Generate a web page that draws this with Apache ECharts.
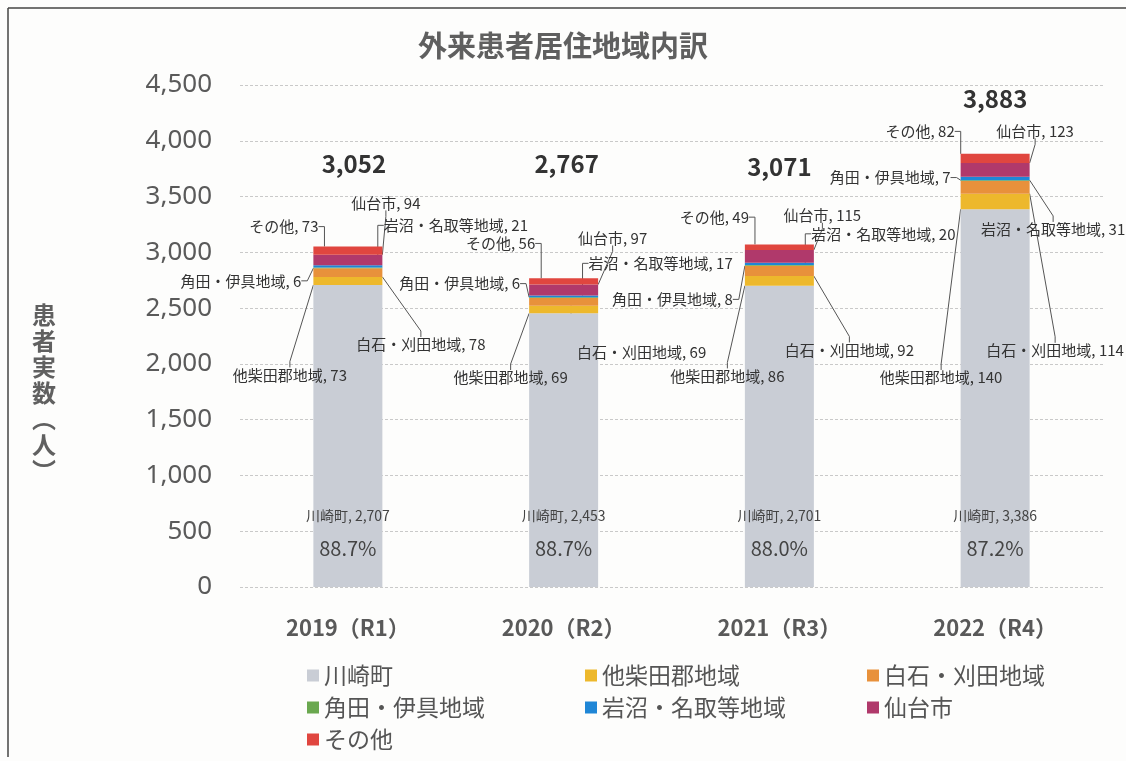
<!DOCTYPE html>
<html>
<head>
<meta charset="utf-8">
<script src="https://cdn.jsdelivr.net/npm/echarts@6/dist/echarts.min.js"></script>
<style>
html,body{margin:0;padding:0;background:#fdfdfc;}
#chart{width:1126px;height:761px;}
</style>
</head>
<body>
<div id="chart"></div>
<script>
// ---- data ----
const categories = ['2019（R1）', '2020（R2）', '2021（R3）', '2022（R4）'];
const seriesNames = ['川崎町', '他柴田郡地域', '白石・刈田地域', '角田・伊具地域', '岩沼・名取等地域', '仙台市', 'その他'];
const kawasaki  = [2707, 2453, 2701, 3386];
const shibata   = [73, 69, 86, 140];
const shiroishi = [78, 69, 92, 114];
const kakuda    = [6, 6, 8, 7];
const iwanuma   = [21, 17, 20, 31];
const sendai    = [94, 97, 115, 123];
const others    = [73, 56, 49, 82];
const totals    = [3052, 2767, 3071, 3883];
const yMin = 0, yMax = 4500, yStep = 500;

// ---- layout (label displacement from segment centre, px) ----
const labelShift = {
  shibata:   [[-58, 94], [-53, 68], [-52, 95], [-54, 176]],
  shiroishi: [[73, 72], [78, 50], [70, 79], [60, 163]],
  kakuda:    [[-107, 13], [-104, -14], [-107, 34], [-105, -3]],
  iwanuma:   [[108, -41], [97, -33], [104, -30], [58, 51]],
  sendai:    [[38, -57], [49, -52], [43, -41], [40, -39]],
  others:    [[-64, -24], [-63, -38], [-65, -30], [-75, -27]]
};
const totalShift = [[6, -66], [3, -97], [0, -61], [0, -38]];

const colors = ['#c9cdd5', '#edb82c', '#e8913b', '#6aa84f', '#1f86d6', '#b0396b', '#e0463f'];
const FONT = '"Noto Sans CJK JP", "Noto Sans", sans-serif';
const fmt = v => v.toLocaleString('en-US');

function smallSeries(idx, data, shiftKey) {
  return {
    name: seriesNames[idx],
    type: 'bar',
    stack: 'total',
    barWidth: 69,
    data: data,
    itemStyle: { color: colors[idx] },
    label: {
      show: true,
      position: 'inside',
      color: '#333',
      fontFamily: FONT,
      fontSize: 15,
      textBorderWidth: 0,
      formatter: p => seriesNames[idx] + ', ' + fmt(p.value)
    },
    labelLayout: p => ({ dx: labelShift[shiftKey][p.dataIndex][0], dy: labelShift[shiftKey][p.dataIndex][1] }),
    labelLine: { show: true, length2: 6, lineStyle: { color: '#555', width: 1 } },
    emphasis: { disabled: true }
  };
}

const chart = echarts.init(document.getElementById('chart'), null, { renderer: 'canvas' });
const legendText = { fontFamily: FONT, fontSize: 23, color: '#555' };
const legendBase = { orient: 'vertical', top: 659, itemWidth: 12, itemHeight: 12, itemGap: 9, icon: 'rect', textStyle: legendText, selectedMode: false };

chart.setOption({
  backgroundColor: '#fdfdfc',
  animation: false,
  title: {
    text: '外来患者居住地域内訳',
    left: 'center',
    top: 26,
    textStyle: { fontFamily: FONT, fontSize: 29, fontWeight: 'bold', color: '#5f5f5f' }
  },
  graphic: [
    { type: 'text', left: 32, top: 302, style: { text: '患\n者\n実\n数\n︵\n人\n︶', fontFamily: FONT, fontSize: 24, lineHeight: 26, fontWeight: 'bold', fill: '#606060' } },
    { type: 'line', shape: { x1: 8, y1: 8, x2: 1126, y2: 8 }, style: { stroke: '#444', lineWidth: 1.5 } },
    { type: 'line', shape: { x1: 8, y1: 8, x2: 8, y2: 757 }, style: { stroke: '#444', lineWidth: 1.5 } }
  ],
  legend: [
    Object.assign({}, legendBase, { left: 302, data: ['川崎町', '角田・伊具地域', 'その他'] }),
    Object.assign({}, legendBase, { left: 580, data: ['他柴田郡地域', '岩沼・名取等地域'] }),
    Object.assign({}, legendBase, { left: 862, data: ['白石・刈田地域', '仙台市'] })
  ],
  grid: { left: 240, right: 23, top: 85, bottom: 174, containLabel: false },
  xAxis: {
    type: 'category',
    data: categories,
    axisLine: { show: false },
    axisTick: { show: false },
    axisLabel: { margin: 30, fontFamily: FONT, fontSize: 22, fontWeight: 'bold', color: '#595959' }
  },
  yAxis: {
    type: 'value',
    min: yMin, max: yMax, interval: yStep,
    axisLine: { show: false },
    axisTick: { show: false },
    splitLine: { lineStyle: { color: '#c9c9c9', type: [3, 2], width: 1 } },
    axisLabel: { margin: 28, fontFamily: '"Noto Sans", sans-serif', fontSize: 26, color: '#5a5a5a', formatter: v => fmt(v) }
  },
  series: [
    {
      name: seriesNames[0],
      type: 'bar',
      stack: 'total',
      barWidth: 69,
      data: kawasaki,
      itemStyle: { color: colors[0] },
      label: {
        show: true,
        position: 'insideBottom',
        distance: 22,
        textBorderWidth: 0,
        formatter: p => '{a|' + seriesNames[0] + ', ' + fmt(p.value) + '}\n{b|' + (p.value / totals[p.dataIndex] * 100).toFixed(1) + '%}',
        rich: {
          a: { fontFamily: FONT, fontSize: 14, color: '#444', lineHeight: 33 },
          b: { fontFamily: FONT, fontSize: 20, color: '#444', lineHeight: 33 }
        }
      },
      emphasis: { disabled: true }
    },
    smallSeries(1, shibata, 'shibata'),
    smallSeries(2, shiroishi, 'shiroishi'),
    smallSeries(3, kakuda, 'kakuda'),
    smallSeries(4, iwanuma, 'iwanuma'),
    smallSeries(5, sendai, 'sendai'),
    smallSeries(6, others, 'others'),
    {
      name: '合計',
      type: 'bar',
      stack: 'total',
      barWidth: 69,
      data: totals.map(() => 0),
      itemStyle: { color: 'transparent' },
      label: {
        show: true,
        position: 'top',
        distance: 5,
        fontFamily: FONT,
        fontSize: 24,
        fontWeight: 'bold',
        color: '#333',
        formatter: p => fmt(totals[p.dataIndex])
      },
      labelLayout: p => ({ dx: totalShift[p.dataIndex][0], dy: totalShift[p.dataIndex][1] }),
      emphasis: { disabled: true }
    }
  ]
});
</script>
</body>
</html>
